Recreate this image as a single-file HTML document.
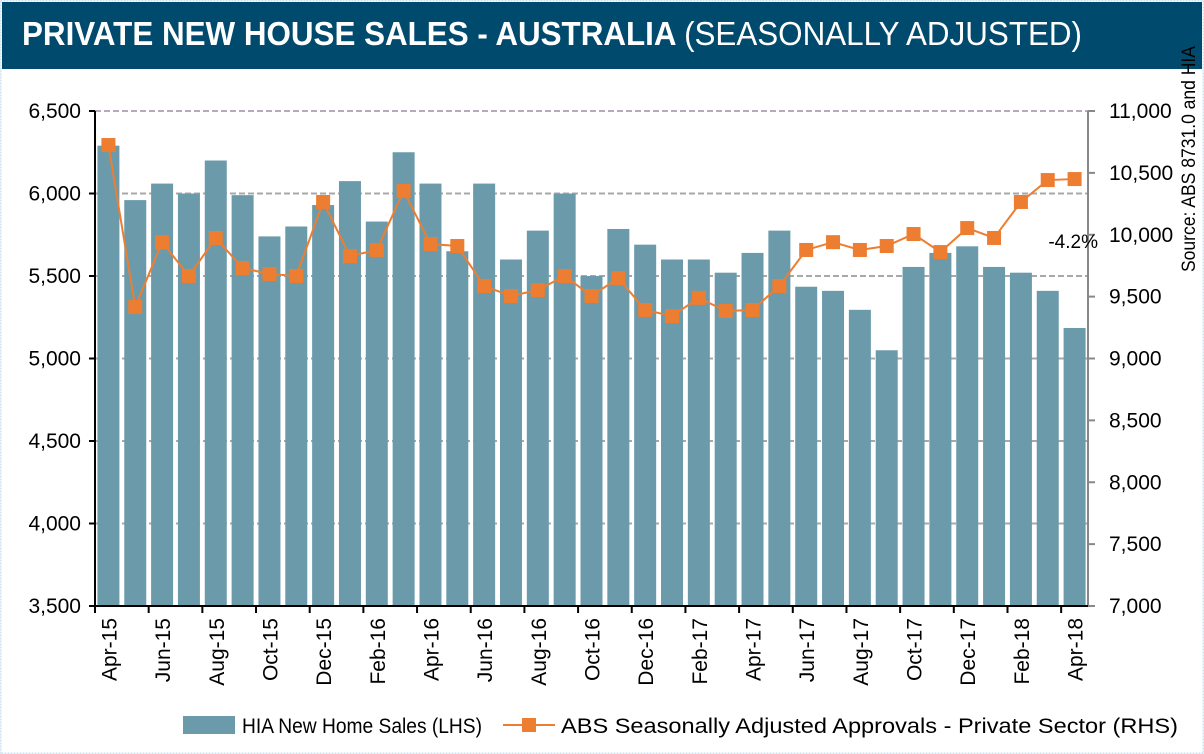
<!DOCTYPE html>
<html><head><meta charset="utf-8"><style>
body{margin:0;background:#fff;}
#wrap{position:relative;width:1204px;height:754px;overflow:hidden;background:#fff;font-family:"Liberation Sans Narrow","Liberation Sans",Arial,sans-serif;}
svg text{font-family:"Liberation Sans Narrow","Liberation Sans",Arial,sans-serif;}
</style></head><body>
<div id="wrap">
<svg id="chart" width="1204" height="754">
  <rect x="0.5" y="0.5" width="1203" height="753" fill="none" stroke="#cfe2f0" stroke-width="2" stroke-dasharray="2,1"/>
  <rect x="2" y="2" width="1200" height="67" fill="#004a6e"/>
  <text x="22" y="45" fill="#fff" font-size="33" font-weight="bold" textLength="1060" lengthAdjust="spacingAndGlyphs" style="font-family:'Liberation Sans',Arial,sans-serif">PRIVATE NEW HOUSE SALES -  AUSTRALIA <tspan font-weight="normal">(SEASONALLY ADJUSTED)</tspan></text>
  <g id="grid"></g><g id="bars"></g><g id="axes"></g><g id="line"></g>
  <text x="1098" y="248" font-size="19" text-anchor="end" fill="#000">-4.2%</text>
  <text transform="translate(1195,272) rotate(-90)" font-size="19" fill="#000" textLength="226" lengthAdjust="spacingAndGlyphs">Source: ABS 8731.0 and HIA</text>
  <rect x="183" y="716" width="52" height="18" fill="#6b9bab"/>
  <text x="242" y="733" font-size="21" fill="#000" textLength="240" lengthAdjust="spacingAndGlyphs">HIA New Home Sales (LHS)</text>
  <line x1="503" y1="725" x2="555" y2="725" stroke="#ed7d31" stroke-width="2"/>
  <rect x="522" y="718" width="14" height="14" fill="#ed7d31"/>
  <text x="561" y="733" font-size="21" fill="#000" textLength="617" lengthAdjust="spacingAndGlyphs">ABS Seasonally Adjusted Approvals - Private Sector (RHS)</text>
</svg>
</div>
<script>
const months = ["Apr-15","May-15","Jun-15","Jul-15","Aug-15","Sep-15","Oct-15","Nov-15","Dec-15","Jan-16","Feb-16","Mar-16","Apr-16","May-16","Jun-16","Jul-16","Aug-16","Sep-16","Oct-16","Nov-16","Dec-16","Jan-17","Feb-17","Mar-17","Apr-17","May-17","Jun-17","Jul-17","Aug-17","Sep-17","Oct-17","Nov-17","Dec-17","Jan-18","Feb-18","Mar-18","Apr-18"];
const sales = [6290,5960,6060,6000,6200,5990,5740,5800,5930,6075,5830,6250,6060,5650,6060,5600,5775,6000,5500,5785,5690,5600,5600,5520,5640,5775,5435,5410,5295,5050,5555,5640,5680,5555,5520,5410,5185];
const approvals = [10725,9416,9940,9667,9974,9731,9683,9667,10265,9828,9877,10354,9925,9909,9586,9505,9553,9667,9505,9650,9392,9343,9490,9384,9392,9586,9877,9940,9877,9909,10006,9860,10054,9974,10265,10442,10450];
const leftTicks = [3500,4000,4500,5000,5500,6000,6500];
const rightTicks = [7000,7500,8000,8500,9000,9500,10000,10500,11000];

const NS="http://www.w3.org/2000/svg";
const X0=95, X1=1088, YT=111, YB=606;
const slot=(X1-X0)/months.length;
const xC=i=>X0+slot*(i+0.5);
const yL=v=>YB-(v-3500)/3000*(YB-YT);
const yR=v=>YB-(v-7000)/4000*(YB-YT);
function mk(tag,attrs,parent){const e=document.createElementNS(NS,tag);for(const k in attrs)e.setAttribute(k,attrs[k]);document.getElementById(parent).appendChild(e);return e;}
const fmt=v=>v.toLocaleString("en-US");

leftTicks.forEach(t=>{
  if(t>3500){const g=mk("line",{x1:X0,x2:X1,y1:yL(t),y2:yL(t),stroke:t===6500?"#b8a8c0":"#a8a8a8","stroke-width":2,"stroke-dasharray":"6,3"},"grid");
  
  }
  const tk=mk("line",{x1:X0-6,x2:X0,y1:yL(t),y2:yL(t),stroke:"#000","stroke-width":2},"axes");
  
  
  const l=mk("text",{x:X0-14,y:yL(t)+7,"font-size":21,"text-anchor":"end",fill:"#000"},"axes");
  l.textContent=fmt(t);
  
  
});
rightTicks.forEach(t=>{
  const tk=mk("line",{x1:X1,x2:X1+7,y1:yR(t),y2:yR(t),stroke:"#888","stroke-width":2},"axes");
  
  
  const l=mk("text",{x:X1+21,y:yR(t)+7,"font-size":21,fill:"#000"},"axes");
  l.textContent=fmt(t);
  
  
});
sales.forEach((v,i)=>{
  const b=mk("rect",{x:xC(i)-11,y:yL(v),width:22,height:YB-yL(v),fill:"#6b9bab"},"bars");
  
  
});
let la=mk("line",{x1:X0,x2:X0,y1:YT,y2:YB,stroke:"#000","stroke-width":2},"axes");


let ra=mk("line",{x1:X1,x2:X1,y1:YT,y2:YB,stroke:"#888","stroke-width":2},"axes");


let xa=mk("line",{x1:X0,x2:X1,y1:YB,y2:YB,stroke:"#000","stroke-width":2},"axes");


months.forEach((m,i)=>{
  if(i%2===0){
    const tx=X0+slot*i;
    const tk=mk("line",{x1:tx,x2:tx,y1:YB,y2:YB+7,stroke:"#000","stroke-width":2},"axes");
    
    
    const l=mk("text",{transform:`translate(${xC(i)+8},${YB+12}) rotate(-90)`,"font-size":21,"text-anchor":"end",fill:"#000"},"axes");
    l.textContent=m;
    
    
  }
});
const pl=mk("polyline",{points:approvals.map((v,i)=>xC(i)+","+yR(v)).join(" "),fill:"none",stroke:"#ed7d31","stroke-width":2},"line");


approvals.forEach((v,i)=>{
  const p=mk("rect",{x:xC(i)-7,y:yR(v)-7,width:14,height:14,fill:"#ed7d31"},"line");
  
  
});
</script>
</body></html>
